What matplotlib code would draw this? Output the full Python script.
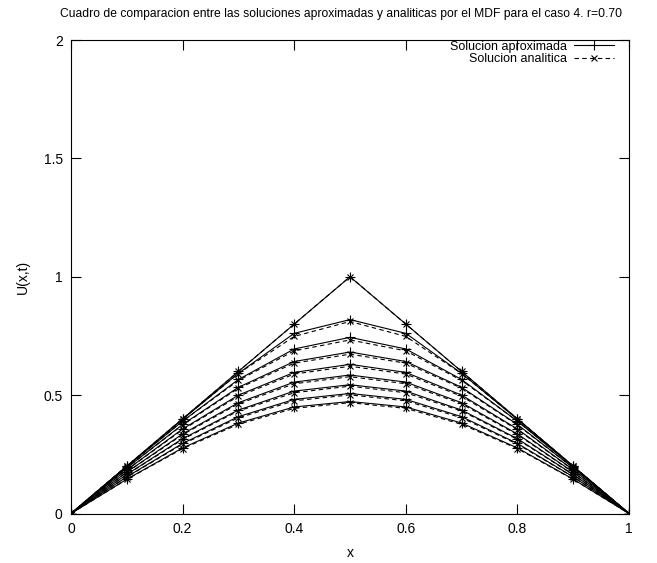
import matplotlib
matplotlib.use("Agg")
import matplotlib.pyplot as plt

x = [0.0, 0.1, 0.2, 0.3, 0.4, 0.5, 0.6, 0.7, 0.8, 0.9, 1.0]

# half profiles (x = 0 .. 0.5), mirrored for x = 0.6 .. 1.0
analytic_half = [
    [0.0, 0.200, 0.400, 0.600, 0.800, 1.000],
    [0.0, 0.200, 0.399, 0.591, 0.748, 0.811],
    [0.0, 0.198, 0.390, 0.562, 0.687, 0.733],
    [0.0, 0.193, 0.374, 0.529, 0.635, 0.673],
    [0.0, 0.184, 0.354, 0.495, 0.589, 0.622],
    [0.0, 0.174, 0.333, 0.463, 0.548, 0.578],
    [0.0, 0.164, 0.313, 0.433, 0.510, 0.538],
    [0.0, 0.154, 0.293, 0.404, 0.476, 0.501],
    [0.0, 0.144, 0.274, 0.377, 0.444, 0.468],
]
approx_half = [
    [0.0, 0.200, 0.400, 0.600, 0.800, 1.000],
    [0.0, 0.200, 0.398, 0.592, 0.761, 0.819],
    [0.0, 0.198, 0.390, 0.566, 0.695, 0.744],
    [0.0, 0.193, 0.376, 0.533, 0.642, 0.682],
    [0.0, 0.185, 0.357, 0.500, 0.596, 0.630],
    [0.0, 0.175, 0.336, 0.468, 0.555, 0.585],
    [0.0, 0.165, 0.316, 0.437, 0.517, 0.544],
    [0.0, 0.155, 0.296, 0.409, 0.482, 0.507],
    [0.0, 0.145, 0.277, 0.382, 0.450, 0.473],
]

title = "Cuadro de comparacion entre las soluciones aproximadas y analiticas por el MDF para el caso 4. r=0.70"
xticks = [0, 0.2, 0.4, 0.6, 0.8, 1]
xtick_labels = ["0", "0.2", "0.4", "0.6", "0.8", "1"]
yticks = [0, 0.5, 1, 1.5, 2]
ytick_labels = ["0", "0.5", "1", "1.5", "2"]

def full(h):
    return list(h) + list(h[-2::-1])

plt.rcParams['font.family'] = ['Liberation Sans', 'DejaVu Sans']
fig = plt.figure(figsize=(6.57, 5.63), dpi=100)
ax = fig.add_axes([71/657, 1 - 513.5/563, (629-71)/657, (513.5-40)/563])

for i, h in enumerate(approx_half):
    ax.plot(x, full(h), color='black', lw=0.8, marker='+', ms=7, mew=0.8,
            label="Solucion aproximada" if i == 0 else None)
for i, h in enumerate(analytic_half):
    ax.plot(x, full(h), color='black', lw=0.8, ls=(0, (4, 3)), marker='x', ms=5, mew=0.8,
            label="Solucion analitica" if i == 0 else None)

ax.set_xlim(0, 1)
ax.set_ylim(0, 2)
ax.set_xticks(xticks)
ax.set_xticklabels(xtick_labels)
ax.set_yticks(yticks)
ax.set_yticklabels(ytick_labels)
ax.tick_params(direction='in', length=7, width=0.8, top=True, right=True, labelsize=10, pad=6)
for s in ax.spines.values():
    s.set_linewidth(0.8)
ax.set_xlabel("x", fontsize=10, labelpad=7)
ax.set_ylabel("U(x,t)", fontsize=10, labelpad=10)
fig.text(341/657, 1 - 14/563, title, ha='center', va='center', fontsize=8.7)

leg = ax.legend(loc='upper right', bbox_to_anchor=((615-71)/558, 1.0), frameon=False,
                fontsize=9, markerfirst=False, handlelength=3.2, handletextpad=0.6,
                borderaxespad=0.0, labelspacing=0.05, borderpad=0.05)
for t in leg.get_texts():
    t.set_ha('right')

fig.savefig("out.png", dpi=100)
